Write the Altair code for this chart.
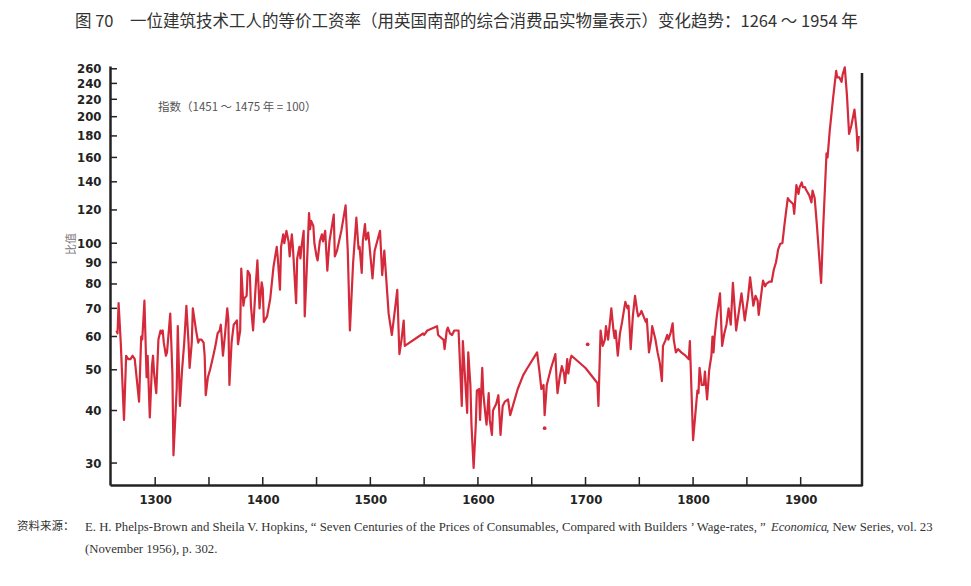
import altair as alt
import pandas as pd

# ---- data (index, 1451-1475 = 100) ----
years_a = [1264,1265,1266,1268,1271,1273,1275,1277,1279,1281,1285,1287,1288,1290,1292,1293,1295,1297,1298,1299,
           1301,1303,1305,1306,1307,1308,1310,1311,1314,1316,1317,1320,1321,1323,1325,1327,1329,1331,1332,1334,
           1335,1338,1340,1341,1343,1345,1346,1347,1349,1351,1354,1356,1358,1360,1361,1363,1365,1367,1368,1369,
           1371,1373,1376,1377,1379,1380,1382,1383,1385,1386,1388,1389,1391,1393,1395,1397,1399,1400,1401]
values_a = [62,61,72,58,38,54,53,53,54,53,42,60,59,73,48,54,38.5,51,54,49,
            44,59,62,61,62,58,54,55,68,49,31.3,45,63.5,41,50,58,71,58,50.5,58,
            70,62,58,59,59,58,54,43.5,48,50,54,57,61,62,64,54,61,70,66,46,
            58,64,65.5,57.5,62,87,71,74,75,86,84,71,62,76,91,70,80.7,78,65]

years_b = [1404,1407,1410,1413,1414,1416,1417,1419,1420,1422,1424,1425,1427,1428,1431,1432,1434,1435,1436,1438,
           1439,1441,1443,1444,1445,1447,1448,1450,1451,1453,1455,1456,1458,1460,1462,1466,1467,1469,1473,1477,
           1479,1481,1484,1487,1489,1490,1492,1493,1495,1496,1498,1499,1502,1504,1509,1511,1513,1514,1517,1520,
           1523,1525,1527,1529,1531,1532]
values_b = [67,74,88,98,92,77.5,98,105,100,107,101,93,105,98,72,92,98,92,98,107,
            67,88,118,108,113,110,100,93,91,101,105,101,107,86,101,117,93,96,107,123,
            96,62,90,115,97,98,85,101,111,102,106,100,82.5,96,107,84,96,88,68,60.5,
            70,77.5,54.5,59,65.5,57]

years_c = [1549,1550,1553,1562,1563,1566,1568,1569,1571,1572,1574,1576,1578,1582,1585,1586,1588,1590,1591,1593,
           1594,1596,1598,1599,1601,1602,1604,1605,1607,1608,1610,1611,1613,1614,1617,1619,1621,1623,1625,1628,
           1630,1637,1642,1645,1655,1657,1659,1661,1662,1664,1668,1672,1673,1674,1676,1678,1680,1681,1683,1684,
           1686,1687]
values_c = [61,60.5,62,63.5,60.5,59.5,59,56,62,63,61,60.5,62,62,41,58.5,48,39.5,55,46,
            37,29.2,37,44.6,45,38,50.5,44,39,37,44,38,35,40,41.5,43.5,35,41,42,42.5,
            39,45,48.5,50,55,50,45,46,39,46,50.5,54.5,48,44,48,51,49,46.5,53,49,
            53,54]

years_d = [1700,1711,1712,1714,1716,1718,1719,1721,1723,1724,1726,1727,1728,1730,1732,1734,1736,1737,1739,1740,
           1742,1744,1746,1748,1749,1751,1752,1754,1756,1757,1759,1761,1762,1765,1767,1769,1771,1772,1774,1776,
           1777,1779,1781,1782,1784,1786,1789,1793,1796,1797,1800,1802,1804,1805,1806,1808,1810,1811,1813,1815,
           1817,1818,1819,1820,1822,1825,1827,1829,1831,1833,1835,1837,1839,1840,1843,1845,1847,1848,1851,1853,
           1855,1856]
values_d = [50.5,46.5,41,62,57,59,63.5,59,66,70,62,59.5,62,54,61,65,70,72.5,70,71,
            56,67,75,69,67,68,69,67,65,66,55,59,63.5,59,55,52,47,57,58.5,60.5,
            59,61,64.5,59,55,56,55,54,53,58.5,34,39,44.6,44,50.5,46,46,49.5,42.5,50,
            54,60,55,60,67,76,57,61,64,70,64,80.5,68,62,70,76,69,65.5,74,83,
            75,71]

years_e = [1858,1860,1861,1864,1865,1867,1868,1871,1873,1875,1877,1878,1879,1881,1883,1885,1888,1890,1893,1894,
           1896,1898,1899,1901,1902,1904,1905,1908,1910,1911,1913,1915,1919,1921,1924,1925,1927,1930,1933,1934,
           1936,1938,1939,1941,1943,1945,1947,1950,1952,1953,1954]
values_e = [75,73,67.5,78,81.5,79,80,81,81,86.5,90,93,96.5,99.7,100,111,128,126,124,117.5,
            137.5,131,136,139.5,136,136,134,130,125,133.5,128,111,80.5,110,163.5,160,185,220,257,248,
            248,242,252,262,225,182,190,208,185,166,180]

dot_years = [1662, 1702]
dot_values = [36.3, 57.5]

y_tick_values = [30, 40, 50, 60, 70, 80, 90, 100, 120, 140, 160, 180, 200, 220, 240, 260]
x_tick_years = [1300, 1350, 1400, 1450, 1500, 1550, 1600, 1650, 1700, 1750, 1800, 1850, 1900]

title_text = "图 70　一位建筑技术工人的等价工资率（用英国南部的综合消费品实物量表示）变化趋势：1264 ～ 1954 年"
note_text = "指数（1451 ～ 1475 年 = 100）"
ytitle_text = "比值"
src_label = "资料来源："
src_line1 = "E. H. Phelps-Brown and Sheila V. Hopkins, “ Seven Centuries of the Prices of Consumables, Compared with Builders ’ Wage-rates, ”"
src_journal = "Economica"
src_line1b = ", New Series, vol. 23"
src_line2 = "(November 1956), p. 302."

# ---- build tables ----
years = years_a + years_b + years_c + years_d + years_e
values = values_a + values_b + values_c + values_d + values_e
assert len(years) == len(values)
df = pd.DataFrame({"year": years, "value": values})
dots = pd.DataFrame({"year": dot_years, "value": dot_values})

W, H = 752, 419
RED = "#d42a3b"
AX = "#232323"
NUM_FONT = "Liberation Sans Narrow, DejaVu Sans Condensed, sans-serif"
CJK = "Noto Sans CJK SC"
SERIF = "Liberation Serif, Noto Sans CJK SC"

xscale = alt.Scale(domain=[1258, 1957], nice=False, zero=False)
yscale = alt.Scale(type="log", domain=[26.6, 264], nice=False)

line = alt.Chart(df).mark_line(color=RED, strokeWidth=2.2, strokeJoin="round").encode(
    x=alt.X("year:Q", scale=xscale,
            axis=alt.Axis(values=x_tick_years, labelExpr="datum.value % 100 == 0 ? datum.value : ''",
                          tickSize=0, grid=False, domainColor=AX, domainWidth=2.5,
                          labelFont=NUM_FONT, labelFontSize=13, labelFontWeight="bold",
                          labelColor=AX, labelPadding=8, labelFlush=False, labelOverlap=False,
                          title=None)),
    y=alt.Y("value:Q", scale=yscale,
            axis=alt.Axis(values=y_tick_values, format="d", tickSize=0, grid=False,
                          domainColor=AX, domainWidth=2.5,
                          labelFont=NUM_FONT, labelFontSize=13, labelFontWeight="bold",
                          labelColor=AX, labelPadding=9, labelOverlap=False, title=None)),
)

pts = alt.Chart(dots).mark_circle(color=RED, size=14, opacity=1).encode(
    x="year:Q", y="value:Q")

xt = alt.Chart(pd.DataFrame({"year": x_tick_years})).mark_rule(color=AX, strokeWidth=1.5).encode(
    x="year:Q", y=alt.value(H), y2=alt.value(H - 8))
yt = alt.Chart(pd.DataFrame({"value": y_tick_values})).mark_rule(color=AX, strokeWidth=1.5).encode(
    y="value:Q", x=alt.value(0), x2=alt.value(7))
right = alt.Chart(pd.DataFrame({"a": [0]})).mark_rule(color=AX, strokeWidth=2.5).encode(
    x=alt.value(W), y=alt.value(7), y2=alt.value(H + 1))

one = pd.DataFrame({"a": [0]})

def txt(text, x, y, font, size, color, **kw):
    return alt.Chart(one).mark_text(text=text, font=font, fontSize=size, color=color,
                                    align=kw.pop("align", "left"), baseline=kw.pop("baseline", "middle"),
                                    **kw).encode(x=alt.value(x), y=alt.value(y))

title = txt(title_text, -35, -44, CJK, 16.5, "#333333")
note = txt(note_text, 48, 42, CJK, 11.5, "#555555")
ytitle = alt.Chart(one).mark_text(text=ytitle_text, font=CJK, fontSize=11, color="#777777",
                                  angle=270, align="center", baseline="middle").encode(
    x=alt.value(-38), y=alt.value(178))
s0 = txt(src_label, -93, 461, CJK, 11.5, "#333333")
s1 = txt(src_line1, -25, 461, SERIF, 12.75, "#333333")
s2 = txt(src_journal, 661, 461, SERIF, 12.5, "#333333", fontStyle="italic")
s3 = txt(src_line1b, 716, 461, SERIF, 12.75, "#333333")
s4 = txt(src_line2, -25, 483, SERIF, 12.75, "#333333")

chart = alt.layer(line, pts, xt, yt, right, title, note, ytitle, s0, s1, s2, s3, s4).properties(
    width=W, height=H,
    padding={"left": 102, "top": 58, "right": 100, "bottom": 85},
    autosize=alt.AutoSizeParams(type="none"),
    background="white",
).configure_view(stroke=None)

chart.save("out.html", embed_options={"renderer": "svg", "actions": False})
